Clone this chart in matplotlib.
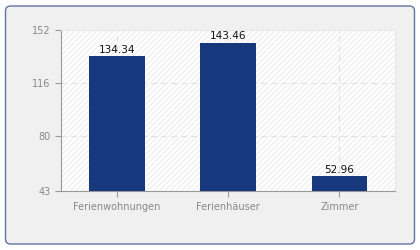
import matplotlib.pyplot as plt
from matplotlib.patches import FancyBboxPatch

categories = ['Ferienwohnungen', 'Ferienhäuser', 'Zimmer']
values = [134.34, 143.46, 52.96]
yticks = [43, 80, 116, 152]

fig = plt.figure(figsize=(4.2, 2.5), dpi=100)
fig.patch.set_facecolor('white')

# outer rounded frame (pixel coords)
box = FancyBboxPatch((5.5, 250 - 244), 409, 238,
                     boxstyle='round,pad=0,rounding_size=5',
                     transform=None, facecolor='#f0f0f0',
                     edgecolor='#6474a0', linewidth=1.0, zorder=-5)
fig.add_artist(box)

ax = fig.add_axes([61 / 420, 1 - 191 / 250, 334 / 420, 161 / 250])
ax.set_zorder(2)
ax.set_facecolor('white')
ax.add_patch(plt.Rectangle((0, 0), 1, 1, transform=ax.transAxes, facecolor='white',
                           hatch='//////', edgecolor='#f0f0f0', linewidth=0, zorder=0))

x = range(len(categories))
ax.bar(x, values, width=0.5, color='#18387e', zorder=3)
for xi, v in zip(x, values):
    ax.text(xi, v + 0.8, f'{v:.2f}', ha='center', va='bottom', fontsize=7.5, color='#111111', zorder=4)

ax.set_xlim(-0.5, 2.5)
ax.set_ylim(43, 152)
ax.set_yticks(yticks)
ax.set_xticks(list(x))
ax.set_xticklabels(categories)
ax.grid(True, color='#e0e0e0', linestyle=(0, (5, 4)), linewidth=0.8, zorder=1)
ax.set_axisbelow(True)

for s in ['top', 'right']:
    ax.spines[s].set_color('#e8e8e8')
    ax.spines[s].set_linewidth(0.8)
for s in ['left', 'bottom']:
    ax.spines[s].set_color('#999999')
    ax.spines[s].set_linewidth(0.8)
ax.tick_params(axis='both', colors='#999999', labelcolor='#888888', labelsize=7, length=4, width=0.8)
ax.tick_params(axis='x', pad=4)

fig.savefig('out.png', dpi=100)
